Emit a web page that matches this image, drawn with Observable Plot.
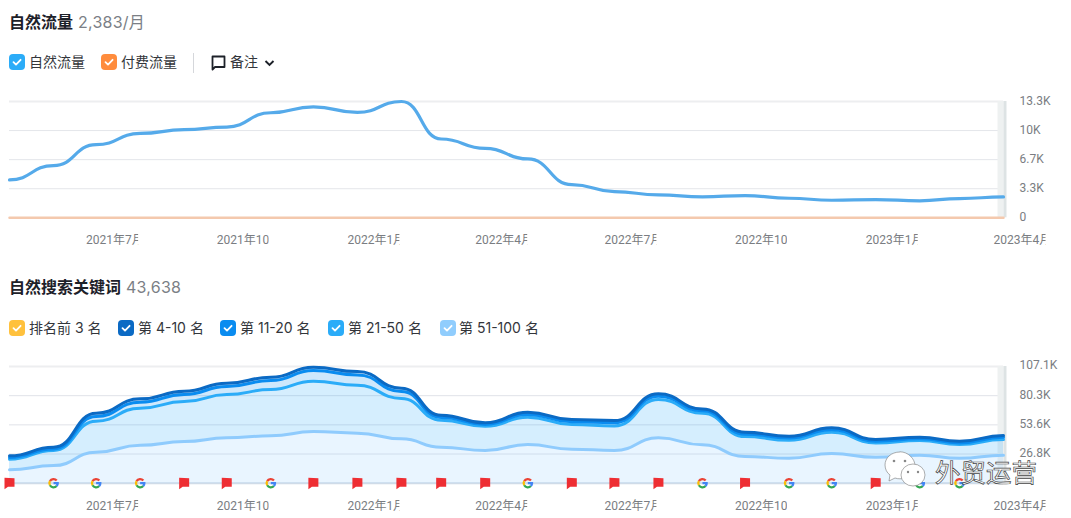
<!DOCTYPE html>
<html><head><meta charset="utf-8">
<script src="https://cdn.jsdelivr.net/npm/d3@7"></script>
<script src="https://cdn.jsdelivr.net/npm/@observablehq/plot@0.6"></script>
<style>
html,body{margin:0;padding:0;background:#fff;width:1071px;height:518px;overflow:hidden;font-family:Inter,"Noto Sans CJK SC",sans-serif}
.abs{position:absolute;white-space:pre}
.title{font-size:16px;font-weight:700;color:#1d2129;line-height:22px}
.num{font-size:16px;color:#7b7f86;line-height:22px;letter-spacing:.25px}
.lab{font-size:14px;color:#33363b;line-height:20px}
.box{position:absolute;width:16px;height:16px;border-radius:4px}
.box svg{position:absolute;left:0;top:0}
</style></head><body>
<div id="root"></div>
<script>
// ---------- data ----------
const months = ["2021-05","2021-06","2021-07","2021-08","2021-09","2021-10","2021-11","2021-12","2022-01","2022-02","2022-03","2022-04","2022-05","2022-06","2022-07","2022-08","2022-09","2022-10","2022-11","2022-12","2023-01","2023-02","2023-03","2023-04"];
const organicTraffic = [4335,5966,8361,9650,10073,10380,12012,12696,12046,13300,9012,7939,6730,3798,3000,2624,2395,2544,2236,2008,2087,1939,2201,2383];
const paidTraffic = [20,20,20,20,20,20,20,20,20,20,20,20,20,20,20,20,20,20,20,20,20,20,20,20];
const rank51to100 = [12.3,16.2,28.4,34.8,38.2,41.6,43.5,47.4,45.9,40.7,33.0,30.0,35.5,31.2,30.0,41.6,35.2,24.5,22.9,27.2,23.8,25.7,22.9,25.7];
const rank21to50 = [9.7,13.8,28.5,34,36.7,39.7,42.4,46.1,44,37,24.8,22.3,25,22.6,22.6,35.2,29,18.3,16.5,19.6,13.2,13.5,12.6,14.4];
const rank11to20 = [1.6,1.5,4.3,5.6,6.5,7.4,8.3,9.9,9.5,6.4,2.6,1.6,2.6,2.6,2.9,3,2.2,2.2,2.1,2.2,1.6,1.5,1.5,2.0];
const rank4to10 = [1.5,1.5,3,3,3,3,3,3,3,3,2,1.5,2,2,2,2.2,1.8,1.8,1.6,1.8,1.5,1.5,1.5,1.6];
const noteKinds = ["flag","google","google","google","flag","flag","google","flag","flag","flag","flag","flag","google","flag","flag","flag","google","flag","google","google","flag","google","google"];
const xTickMonths = ["2021-07","2021-10","2022-01","2022-04","2022-07","2022-10","2023-01","2023-04"];
const trafficTicks = [0,3325,6650,9975,13300];
const trafficTickLabels = ["0","3.3K","6.7K","10K","13.3K"];
const keywordTicks = [26.775,53.55,80.325,107.1];
const keywordTickLabels = ["26.8K","53.6K","80.3K","107.1K"];
const seriesNames = ["第 51-100 名","第 21-50 名","第 11-20 名","第 4-10 名"];
const seriesColors = ["#8fcbfd","#2bacf8","#0a8cf0","#0b6ac4"];

// ---------- page chrome ----------
const root = document.getElementById("root");
function put(cls, text, x, y, extra){const d=document.createElement("div");d.className="abs "+cls;d.textContent=text;d.style.left=x+"px";d.style.top=y+"px";if(extra)Object.assign(d.style,extra);root.appendChild(d);return d;}
function box(x,y,c){const d=document.createElement("div");d.className="box";d.style.left=x+"px";d.style.top=y+"px";d.style.background=c;d.innerHTML='<svg width="16" height="16"><path d="M4.5 8.2L7 10.6L11.6 5.8" fill="none" stroke="#fff" stroke-width="1.8" stroke-linecap="round" stroke-linejoin="round"/></svg>';root.appendChild(d);}
put("title","自然流量",9,11); put("num","2,383/月",78,11);
box(9,54,"#2bacf8"); put("lab","自然流量",29,52);
box(101,54,"#ff8c3d"); put("lab","付费流量",121,52);
const deco=document.createElement("div");deco.className="abs";deco.style.left="0";deco.style.top="0";
deco.innerHTML='<svg width="1071" height="518" style="position:absolute;left:0;top:0"><line x1="193.5" x2="193.5" y1="53" y2="73" stroke="#d5d7db"/><path d="M212.5 56.5h12v10.5h-9.5l-2.5 2.5z" fill="none" stroke="#1d2129" stroke-width="1.8" stroke-linejoin="round"/><path d="M265.5 61l4 4l4-4" fill="none" stroke="#1d2129" stroke-width="1.9"/></svg>';
root.appendChild(deco);
put("lab","备注",230,52);
put("title","自然搜索关键词",9,276); put("num","43,638",126,276);
[[9,"#ffc13d","排名前 3 名",29],[118,"#0b6ac4","第 4-10 名",138],[220,"#0a8cf0","第 11-20 名",240],[328,"#2bacf8","第 21-50 名",348],[440,"#90cdfd","第 51-100 名",459]].forEach(([x,c,t,tx])=>{box(x,320,c);put("lab",t,tx,318);});

// ---------- shared ----------
const parse = d3.utcParse("%Y-%m");
const dates = months.map(parse);
const ticksX = xTickMonths.map(parse);
const fontStyle = {fontFamily:'Roboto,"Noto Sans CJK SC",sans-serif',fontSize:"12px",color:"#7a7d82",background:"transparent",overflow:"visible",position:"absolute",left:"0"};
const xOpts = {type:"utc",domain:[dates[0],dates[dates.length-1]]};
function xAxis(pad){return Plot.axisX(ticksX,{tickSize:0,tickPadding:pad,textAnchor:"start",dx:-10,tickFormat:d3.utcFormat("%Y年%-m月"),fill:"#7a7d82",label:null});}
function edge(top){return [
  Plot.ruleX([dates[dates.length-1]],{y1:0,y2:top,stroke:"#eef1f1",strokeWidth:6,dx:-3}),
  Plot.ruleX([dates[dates.length-1]],{y1:0,y2:top,stroke:"#dde3e4",strokeWidth:3,dx:1.5})
];}
function clipLabels(svg){
  svg.querySelectorAll('g[aria-label="x-axis tick label"] text').forEach(t=>{
    t.style.clipPath="inset(-4px "+Math.max(0,t.getBBox().width-52)+"px -4px 0)";
  });
}

// ---------- chart 1 ----------
const traffic = dates.map((d,i)=>({date:d,organic:organicTraffic[i],paid:paidTraffic[i]}));
const chart1 = Plot.plot({
  width:1071,height:170,marginLeft:9,marginRight:68,marginTop:21,marginBottom:32.7,style:fontStyle,
  x:{...xOpts},y:{domain:[0,13300],label:null},
  marks:[
    Plot.ruleY(trafficTicks.slice(1,4),{stroke:"#e4e6ea"}),
    Plot.ruleY([13300],{stroke:"#edeef0",strokeWidth:2}),
    ...edge(13300),
    Plot.lineY(traffic,{x:"date",y:"paid",stroke:"#f4c9ae",strokeWidth:2.5,curve:"bump-x"}),
    Plot.lineY(traffic,{x:"date",y:"organic",stroke:"#55aaea",strokeWidth:3.2,curve:"bump-x"}),
    Plot.axisY(trafficTicks,{anchor:"right",tickSize:0,tickPadding:16,dy:-0.5,textAnchor:"start",label:null,fill:"#7a7d82",tickFormat:(d,i)=>trafficTickLabels[i]}),
    xAxis(18)
  ]});
chart1.style.top="80px"; root.appendChild(chart1); clipLabels(chart1);

// ---------- chart 2 ----------
const rows=[];
[rank51to100,rank21to50,rank11to20,rank4to10].forEach((vals,s)=>vals.forEach((v,i)=>rows.push({date:dates[i],value:v,series:seriesNames[s]})));
const stackOpts={x:"date",y:"value",z:"series",order:seriesNames};
const notes = noteKinds.map((kind,i)=>({date:dates[i],kind}));
function ring(ctx,a0,a1){const R=5.3,r=3,t=Math.PI/180;ctx.moveTo(R*Math.cos(a0*t),R*Math.sin(a0*t));ctx.arc(0,0,R,a0*t,a1*t);ctx.lineTo(r*Math.cos(a1*t),r*Math.sin(a1*t));ctx.arc(0,0,r,a1*t,a0*t,true);ctx.closePath();}
const flagSym={draw(c){c.moveTo(-5,-5.5);c.lineTo(5,-5);c.lineTo(5,3.5);c.lineTo(-1.5,3.5);c.lineTo(-5,6);c.closePath();}};
const gRed={draw(c){ring(c,-150,-40);}};
const gYellow={draw(c){ring(c,150,210);}};
const gGreen={draw(c){ring(c,42,150);}};
const gBlue={draw(c){ring(c,0,42);c.moveTo(0,-1.2);c.lineTo(5.3,-1.2);c.lineTo(5.3,1);c.lineTo(0,1);c.closePath();}};
const noteMark=(kind,sym,fill)=>Plot.dot(notes.filter(n=>n.kind===kind),{x:"date",y:()=>0,symbol:sym,fill,stroke:"none"});
const chart2 = Plot.plot({
  width:1071,height:170,marginLeft:9,marginRight:68,marginTop:16,marginBottom:37.3,style:fontStyle,
  x:{...xOpts},y:{domain:[0,107.1],label:null},
  color:{domain:seriesNames,range:seriesColors},
  marks:[
    Plot.ruleY(keywordTicks.slice(0,3),{stroke:"#e0e3e8"}),
    Plot.ruleY([107.1],{stroke:"#edeef0",strokeWidth:2}),
    Plot.ruleY([0],{stroke:"#cfdbe8",strokeWidth:2}),
    ...edge(107.1),
    Plot.areaY(rows,Plot.stackY({...stackOpts,fill:"series",fillOpacity:0.2,curve:"bump-x"})),
    Plot.lineY(rows,Plot.stackY2({...stackOpts,stroke:"series",strokeWidth:3,curve:"bump-x"})),
    noteMark("flag",flagSym,"#ee2e33"),
    noteMark("google",gRed,"#ea4335"),
    noteMark("google",gYellow,"#fbbc05"),
    noteMark("google",gGreen,"#34a853"),
    noteMark("google",gBlue,"#4285f4"),
    Plot.axisY(keywordTicks,{anchor:"right",tickSize:0,tickPadding:16,dy:-1,textAnchor:"start",label:null,fill:"#7a7d82",tickFormat:(d,i)=>keywordTickLabels[i]}),
    xAxis(18)
  ]});
chart2.style.top="350px"; root.appendChild(chart2); clipLabels(chart2);

// ---------- watermark ----------
const wm=document.createElement("div");wm.className="abs";wm.style.left="0";wm.style.top="0";
wm.innerHTML='<svg width="1071" height="518" style="position:absolute;left:0;top:0"><path d="M900 452c-9 0-15 6-15 13c0 4 2 8 5 10l-1 6l6-3c2 .6 3 .8 5 .8c8 0 15-6 15-13s-7-14-15-14z" fill="#fff" stroke="#777" stroke-width=".6"/><ellipse cx="913" cy="475" rx="12" ry="11" fill="#fff" stroke="#777" stroke-width=".6"/><circle cx="894" cy="461" r="1.3" fill="#888"/><circle cx="905" cy="461" r="1.3" fill="#888"/><circle cx="908" cy="472" r="1.2" fill="#888"/><circle cx="918" cy="472" r="1.2" fill="#888"/></svg>';
root.appendChild(wm);
put("","外贸运营",935,454,{fontSize:"25.5px",lineHeight:"34px",color:"#fff",webkitTextStroke:"0.7px #444",fontFamily:'"Noto Sans CJK SC",sans-serif'});
</script>
</body></html>
